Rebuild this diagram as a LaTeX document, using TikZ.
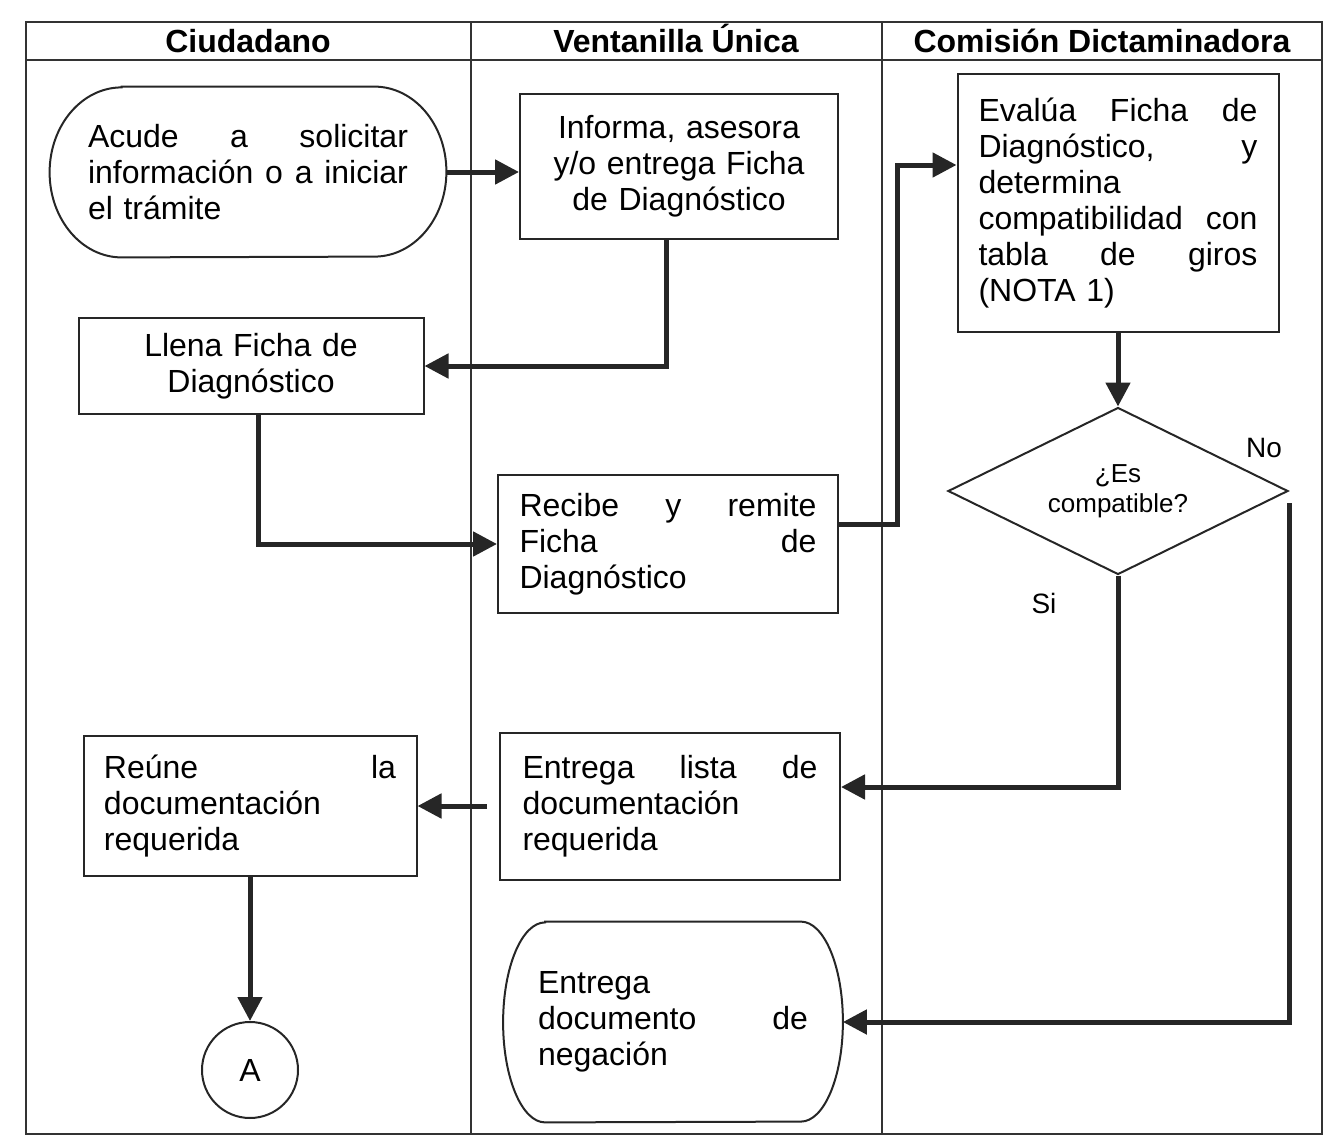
\documentclass[tikz,border=0pt]{standalone}
\usepackage{fontspec}
\setmainfont{Liberation Sans}
\usetikzlibrary{arrows.meta,shapes.geometric}

% outline of a terminal: straight top and bottom, elliptic ends
\newcommand{\capsule}[3]{%
  \draw[shapeline] ([xshift=#2]#1.north west) -- ([xshift=-#2]#1.north east)
    arc[start angle=90, end angle=-90, x radius=#2, y radius=#3]
    -- ([xshift=#2]#1.south west)
    arc[start angle=270, end angle=90, x radius=#2, y radius=#3] -- cycle;}

\begin{document}
\begin{tikzpicture}[x=0.5pt, y=-0.5pt,
  every node/.style={font=\fontsize{16}{18}\selectfont, inner sep=0pt},
  lane/.style={draw=black!80, line width=0.75pt},
  head/.style={font=\fontsize{16}{18}\selectfont\bfseries, anchor=base},
  shapeline/.style={draw=black!85, line width=1pt},
  box/.style={shapeline, rectangle},
  decision/.style={shapeline, diamond, aspect=2, align=center,
    font=\fontsize{13}{15}\selectfont},
  flow/.style={draw=black!85, line width=2.5pt,
    -{Triangle[length=12pt, width=12pt]}}]
\useasboundingbox (0,0) rectangle (1341,1146);

\draw[lane] (26,22) rectangle (1322,1134);
\draw[lane] (26,60) -- (1322,60);
\foreach \lx in {471,882}
  \draw[lane] (\lx,22) -- (\lx,1134);

\node[head] (hdciud) at (248,52) {Ciudadano};
\node[head] (hdvent) at (676,52) {Ventanilla Única};
\node[head] (hdcom) at (1102,52) {Comisión Dictaminadora};

\node[minimum width=198pt, minimum height=85pt, text width=160pt, align=left]
  (acude) at (248,172)
  {Acude\hfill a\hfill solicitar\\información\hfill o\hfill a\hfill iniciar\\el trámite};
\capsule{acude}{36pt}{42.5pt}

\node[box, minimum width=159pt, minimum height=72.5pt, text width=150pt, align=center]
  (informa) at (679,166)
  {Informa, asesora\\y/o entrega Ficha\\de Diagnóstico};

\node[box, minimum width=160.5pt, minimum height=129pt, text width=139.5pt, align=left]
  (evalua) at (1118,203)
  {Evalúa\hfill Ficha\hfill de\\Diagnóstico,\hfill y\\determina\\compatibilidad\hfill con\\tabla\hfill de\hfill giros\\(NOTA 1)};

\node[decision, minimum width=170pt, minimum height=83.5pt]
  (compat) at (1118,491) {¿Es\\compatible?};

\node[box, minimum width=172.5pt, minimum height=48pt, text width=160pt, align=center]
  (llena) at (251,366) {Llena Ficha de\\Diagnóstico};

\node[box, minimum width=170pt, minimum height=69pt, text width=148.5pt, align=left]
  (recibe) at (668,544)
  {Recibe\hfill y\hfill remite\\Ficha\hfill de\\Diagnóstico};

\node[box, minimum width=170pt, minimum height=73.5pt, text width=147.5pt, align=left]
  (lista) at (670,806)
  {Entrega\hfill lista\hfill de\\documentación\\requerida};

\node[box, minimum width=166.5pt, minimum height=70pt, text width=146pt, align=left]
  (reune) at (250,806)
  {Reúne\hfill la\\documentación\\requerida};

\node[shapeline, circle, minimum size=48pt] (conA) at (250,1070) {A};

\node[minimum width=169.5pt, minimum height=100pt, text width=135pt, align=left]
  (negacion) at (673,1022)
  {Entrega\\documento\hfill de\\negación};
\capsule{negacion}{21pt}{50pt}

\node[font=\fontsize{14}{16}\selectfont] (lblno) at (1264,448) {No};
\node[font=\fontsize{14}{16}\selectfont] (lblsi) at (1044,603) {Si};

\draw[flow] (acude.east) -- (acude.east -| informa.west);
\draw[flow] ([xshift=-6.5pt]informa.south) |- (llena.east);
\draw[flow] ([xshift=3.5pt]llena.south) |- (recibe.west);
\draw[flow] ([yshift=10pt]recibe.east) -- ++(29pt,0) |- ([yshift=19pt]evalua.west);
\draw[flow] (evalua.south) -- (compat.north);
\draw[flow] (compat.south) |- ([yshift=9.5pt]lista.east);
\draw[flow] ([yshift=-6pt]compat.east) |- (negacion.east);
\draw[flow] ([xshift=-6pt]lista.west) -- (reune.east);
\draw[flow] (reune.south) -- (conA.north);
\end{tikzpicture}
\end{document}
